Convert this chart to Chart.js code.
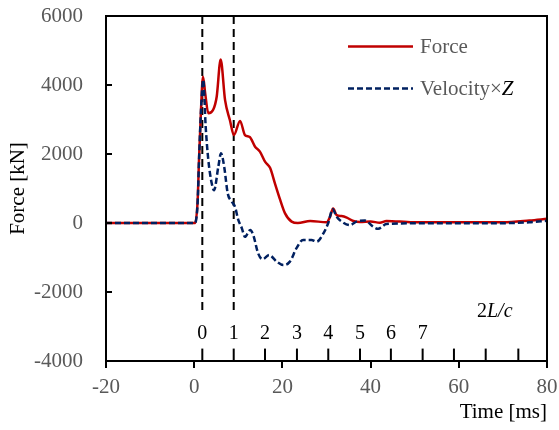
<!DOCTYPE html>
<html>
<head>
<meta charset="utf-8">
<script src="https://cdn.jsdelivr.net/npm/chart.js@4"></script>
<style>
html, body { margin: 0; padding: 0; background: #fff; }
</style>
</head>
<body>
<canvas id="myChart" width="559" height="430"></canvas>
<script>
// data
var forceTime = [-20, 0.2, 0.78, 1.09, 1.54, 2.0, 2.5, 3.2, 4.3, 5.1, 6.0, 7.0, 8.1, 9.0, 10.4, 11.5, 12.6, 13.8, 14.9, 16.1, 17.2, 18.3, 19.5, 20.6, 22.1, 23.5, 26.3, 30.0, 30.8, 31.5, 32.3, 33.4, 34.6, 36.1, 37.6, 40.0, 42.1, 43.6, 49.6, 60, 70, 76, 80];
var forceValues = [0, 0, 650, 1830, 3280, 4240, 3750, 3180, 3280, 3660, 4740, 3560, 2980, 2550, 2960, 2550, 2490, 2210, 2070, 1770, 1600, 1150, 670, 280, 40, 0, 60, 20, 180, 420, 230, 200, 155, 58, 30, 40, 10, 60, 20, 20, 20, 70, 120];

var velTime = [-20, 0.2, 0.78, 1.09, 1.54, 2.05, 2.6, 3.2, 3.97, 4.5, 5.47, 6.08, 6.8, 7.6, 8.5, 9.25, 10.0, 10.8, 11.5, 12.7, 13.4, 14.5, 15.5, 17.0, 18.7, 20.2, 21.7, 23.2, 24.7, 26.6, 27.8, 29.3, 30.4, 31.4, 32.3, 33.8, 35.3, 36.8, 38.7, 40.6, 41.7, 43.6, 49.7, 65, 76, 80];
var velValues = [0, 0, 600, 1800, 3250, 4150, 2800, 1830, 1150, 950, 1630, 2020, 1630, 860, 620, 470, 90, -150, -400, -200, -350, -880, -1050, -930, -1120, -1220, -1120, -730, -490, -490, -540, -300, 0, 400, 180, 10, -60, 40, 70, -110, -170, -30, -10, -10, 20, 67];

// 2L/c reflection marks (ms) and their labels
var waveTicks = [1.84, 8.96, 16.05, 23.3, 30.4, 37.6, 44.6, 51.8, 58.9, 66.1, 73.5];
var waveLabels = ['0', '1', '2', '3', '4', '5', '6', '7'];
var markerTimes = [1.84, 8.96];

var yTicks = [6000, 4000, 2000, 0, -2000, -4000];

function toPoints(xs, ys) {
    return xs.map(function (x, i) { return {x: x, y: ys[i]}; });
}

var serif = '"Liberation Serif", "Times New Roman", serif';
var red = '#C00000';
var navy = '#002060';

var extras = {
    id: 'extras',
    beforeDatasetsDraw: function (chart) {
        var ctx = chart.ctx, a = chart.chartArea, xs = chart.scales.x, ys = chart.scales.y;
        ctx.save();
        ctx.strokeStyle = '#000';
        ctx.lineWidth = 2;
        ctx.setLineDash([8, 5]);
        markerTimes.forEach(function (t) {
            var px = xs.getPixelForValue(t);
            ctx.beginPath();
            ctx.moveTo(px, a.top);
            ctx.lineTo(px, ys.getPixelForValue(-2650));
            ctx.stroke();
        });
        ctx.restore();
    },
    afterDraw: function (chart) {
        var ctx = chart.ctx, a = chart.chartArea, xs = chart.scales.x, ys = chart.scales.y;
        ctx.save();
        // frame
        ctx.strokeStyle = '#000';
        ctx.lineWidth = 2;
        ctx.strokeRect(a.left, a.top, a.right - a.left, a.bottom - a.top);
        // inward y ticks
        yTicks.forEach(function (v) {
            var py = ys.getPixelForValue(v);
            ctx.beginPath();
            ctx.moveTo(a.left, py);
            ctx.lineTo(a.left + 6, py);
            ctx.stroke();
        });
        // 2L/c ticks and numbers
        var tickTop = ys.getPixelForValue(-3640);
        ctx.font = '20px ' + serif;
        ctx.fillStyle = '#000';
        ctx.textAlign = 'center';
        ctx.textBaseline = 'middle';
        waveTicks.forEach(function (t, i) {
            var px = xs.getPixelForValue(t);
            ctx.beginPath();
            ctx.moveTo(px, tickTop);
            ctx.lineTo(px, a.bottom);
            ctx.stroke();
            if (i < waveLabels.length) {
                ctx.fillText(waveLabels[i], px, ys.getPixelForValue(-3200));
            }
        });
        // "2L/c"
        var ly = ys.getPixelForValue(-2580);
        ctx.textAlign = 'left';
        var lx = 477;
        ctx.font = '20px ' + serif;
        ctx.fillText('2', lx, ly);
        lx += ctx.measureText('2').width;
        ctx.font = 'italic 20px ' + serif;
        ctx.fillText('L/c', lx, ly);

        // legend
        ctx.lineWidth = 2.5;
        ctx.strokeStyle = red;
        ctx.setLineDash([]);
        ctx.beginPath();
        ctx.moveTo(348, 46.5);
        ctx.lineTo(413, 46.5);
        ctx.stroke();
        ctx.strokeStyle = navy;
        ctx.setLineDash([6, 3]);
        ctx.beginPath();
        ctx.moveTo(348, 88.5);
        ctx.lineTo(413, 88.5);
        ctx.stroke();
        ctx.setLineDash([]);
        ctx.font = '21px ' + serif;
        ctx.fillStyle = '#595959';
        ctx.fillText('Force', 420, 47);
        ctx.fillText('Velocity\u00d7', 420, 89);
        var zx = 420 + ctx.measureText('Velocity\u00d7').width;
        ctx.font = 'italic 21px ' + serif;
        ctx.fillStyle = '#000';
        ctx.fillText('Z', zx, 89);
        ctx.restore();
    }
};

var ctx = document.getElementById('myChart').getContext('2d');
var myChart = new Chart(ctx, {
    type: 'line',
    data: {
        // velocity first so the dashed line sits on top of the force line
        datasets: [{
            label: 'Velocity\u00d7Z',
            data: toPoints(velTime, velValues),
            borderColor: navy,
            borderWidth: 2.5,
            borderDash: [6, 3],
            pointRadius: 0,
            cubicInterpolationMode: 'monotone',
            fill: false
        }, {
            label: 'Force',
            data: toPoints(forceTime, forceValues),
            borderColor: red,
            borderWidth: 2.5,
            pointRadius: 0,
            cubicInterpolationMode: 'monotone',
            fill: false
        }]
    },
    options: {
        responsive: false,
        animation: false,
        devicePixelRatio: 1,
        layout: { padding: { left: 0, right: 12, top: 16, bottom: 0 } },
        plugins: {
            legend: { display: false },
            tooltip: { enabled: false }
        },
        scales: {
            x: {
                type: 'linear',
                min: -20,
                max: 80,
                afterFit: function (s) { s.height = 69; s.paddingLeft = 0; s.paddingRight = 0; },
                border: { display: false },
                grid: { drawOnChartArea: false, drawTicks: true, tickLength: 7, color: '#000', lineWidth: 2 },
                ticks: {
                    stepSize: 20,
                    padding: 7,
                    color: '#595959',
                    font: { family: serif, size: 21 },
                    callback: function (v) { return String(v); }
                },
                title: {
                    display: true,
                    text: 'Time [ms]',
                    align: 'end',
                    color: '#000',
                    font: { family: serif, size: 21 },
                    padding: { top: 0, bottom: 5 }
                }
            },
            y: {
                min: -4000,
                max: 6000,
                afterFit: function (s) { s.width = 106; s.paddingTop = 0; s.paddingBottom = 0; },
                border: { display: false },
                grid: { display: false, drawTicks: false },
                ticks: {
                    stepSize: 2000,
                    padding: 23,
                    color: '#595959',
                    font: { family: serif, size: 21 },
                    callback: function (v) { return String(v); }
                },
                title: {
                    display: true,
                    text: 'Force [kN]',
                    color: '#000',
                    font: { family: serif, size: 21 },
                    padding: { top: 6, bottom: 0 }
                }
            }
        }
    },
    plugins: [extras]
});
</script>
</body>
</html>
